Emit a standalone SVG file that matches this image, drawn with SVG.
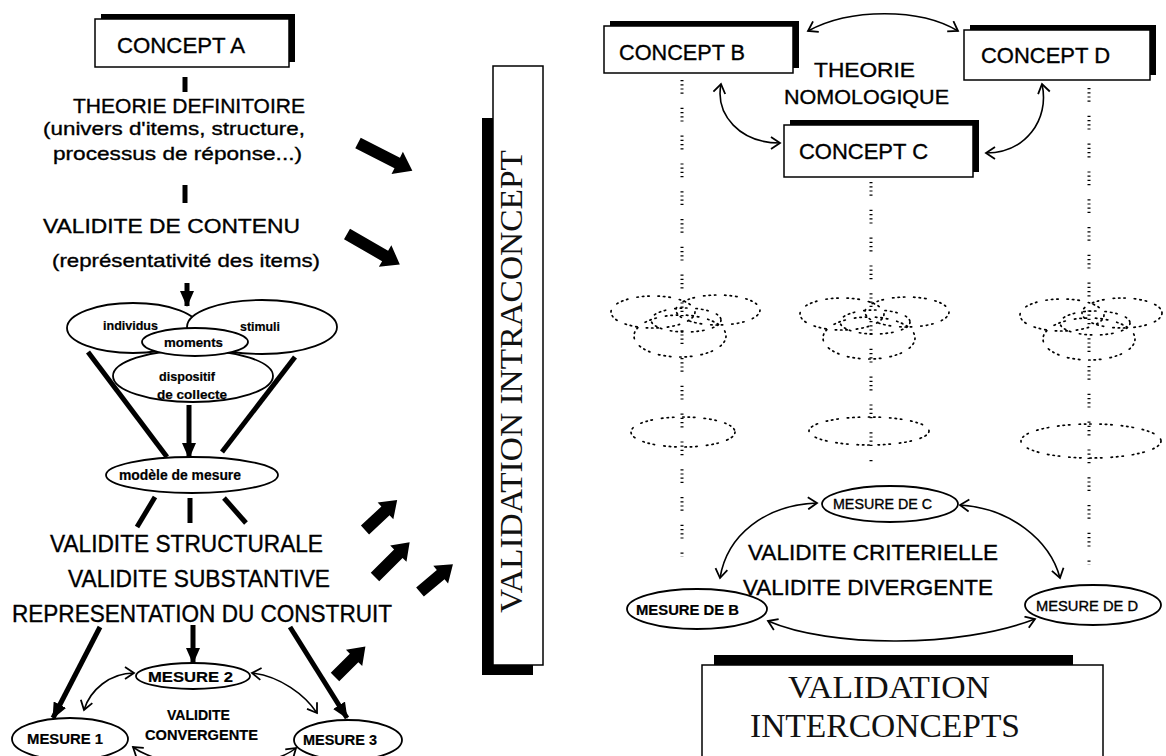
<svg xmlns="http://www.w3.org/2000/svg" width="1166" height="756" viewBox="0 0 1166 756">
<defs>
<style>
.t{font-family:"Liberation Sans",Arial,sans-serif;fill:#000;stroke:#000;stroke-width:0.35}
.b{font-weight:bold;stroke-width:0.2}
.sf{font-family:"Liberation Serif","Times New Roman",serif;fill:#111}
.box{fill:#fff;stroke:#000;stroke-width:1.5}
.shd{fill:#000}
.el{fill:#fff;stroke:#000;stroke-width:1.8}
.dot{fill:none;stroke:#000;stroke-width:1.7;stroke-dasharray:1.4 4 1.4 4 1.4 9;stroke-linecap:round}
.vdot{fill:none;stroke:#000;stroke-width:3;stroke-dasharray:1.2 3 1.2 3 1.2 3 1.2 14}
.thick{fill:none;stroke:#000;stroke-width:5}
.thin{fill:none;stroke:#000;stroke-width:1.6}
.blk{fill:#000}
</style>
<marker id="sol" markerUnits="userSpaceOnUse" markerWidth="16" markerHeight="14" refX="15" refY="7" orient="auto">
<path d="M0,0 L16,7 L0,14 Z" fill="#000"/>
</marker>
<marker id="chev" markerUnits="userSpaceOnUse" markerWidth="12" markerHeight="14" refX="10" refY="7" orient="auto-start-reverse">
<path d="M1,1 L10,7 L1,13" fill="none" stroke="#000" stroke-width="1.8"/>
</marker>
</defs>
<rect width="1166" height="756" fill="#fff"/>

<!-- connectors -->
<g id="connectors">
<line class="thick" x1="185" y1="77" x2="185" y2="92"/>
<line class="thick" x1="185" y1="185" x2="185" y2="203"/>
<line class="thick" x1="187" y1="283" x2="187" y2="306" marker-end="url(#sol)"/>
<line class="thick" x1="88" y1="352" x2="167" y2="457"/>
<line class="thick" x1="295" y1="357" x2="222" y2="452"/>
<line class="thick" x1="189" y1="405" x2="189" y2="458" marker-end="url(#sol)"/>
<line class="thick" x1="155" y1="497" x2="137" y2="527"/>
<line class="thick" x1="190" y1="498" x2="190" y2="523"/>
<line class="thick" x1="224" y1="498" x2="246" y2="523"/>
<line class="thick" x1="100" y1="627" x2="53" y2="718" stroke-width="4" marker-end="url(#sol)"/>
<line class="thick" x1="193" y1="625" x2="193" y2="663" stroke-width="4" marker-end="url(#sol)"/>
<line class="thick" x1="290" y1="627" x2="347" y2="718" stroke-width="4" marker-end="url(#sol)"/>
<path class="thin" d="M134,673 C110,673 90,690 84,710" marker-start="url(#chev)" marker-end="url(#chev)"/>
<path class="thin" d="M252,673 C280,676 305,695 317,713" marker-start="url(#chev)" marker-end="url(#chev)"/>
<path class="thin" d="M133,747 C165,772 268,772 296,748" marker-start="url(#chev)" marker-end="url(#chev)"/>

<!-- block arrows -->
<path class="blk" transform="translate(358,143) rotate(27)" d="M0,-6 H44 V-12.5 L61,0 L44,12.5 V6 H0 Z"/>
<path class="blk" transform="translate(347,234) rotate(30)" d="M0,-6 H44 V-12.5 L61,0 L44,12.5 V6 H0 Z"/>
<path class="blk" transform="translate(365,530) rotate(-43)" d="M0,-6 H28 V-11.5 L44,0 L28,11.5 V6 H0 Z"/>
<path class="blk" transform="translate(375,577) rotate(-45)" d="M0,-6 H33 V-11.5 L49,0 L33,11.5 V6 H0 Z"/>
<path class="blk" transform="translate(420,592) rotate(-40)" d="M0,-6 H27 V-11.5 L43,0 L27,11.5 V6 H0 Z"/>
<path class="blk" transform="translate(335,677) rotate(-45)" d="M0,-6 H27 V-11.5 L43,0 L27,11.5 V6 H0 Z"/>

<!-- right side thin arrows -->
<path class="thin" d="M808,31 C850,8 920,8 958,31" marker-start="url(#chev)" marker-end="url(#chev)"/>
<path class="thin" d="M721,84 C715,115 740,143 780,143" marker-start="url(#chev)" marker-end="url(#chev)"/>
<path class="thin" d="M1042,84 C1050,120 1025,153 986,153" marker-start="url(#chev)" marker-end="url(#chev)"/>
<path class="thin" d="M817,503 C765,505 727,535 720,578" marker-start="url(#chev)" marker-end="url(#chev)"/>
<path class="thin" d="M960,505 C1010,508 1050,540 1060,578" marker-start="url(#chev)" marker-end="url(#chev)"/>
<path class="thin" d="M768,621 C830,648 960,648 1035,619" marker-start="url(#chev)" marker-end="url(#chev)"/>

<!-- dotted verticals -->
<line class="vdot" x1="682" y1="80" x2="682" y2="557"/>
<line class="vdot" x1="871" y1="182" x2="871" y2="462"/>
<line class="vdot" x1="1089" y1="88" x2="1089" y2="565"/>
</g>

<!-- left column -->
<g id="conceptA">
<rect class="shd" x="101" y="14" width="194" height="48"/>
<rect class="box" x="95" y="19" width="194" height="48"/>
<text class="t" x="117" y="53" font-size="22" textLength="128" lengthAdjust="spacingAndGlyphs">CONCEPT A</text>
</g>
<g id="theorie-definitoire">
<text class="t" x="73" y="113" font-size="20" textLength="232" lengthAdjust="spacingAndGlyphs">THEORIE DEFINITOIRE</text>
<text class="t" x="43" y="135" font-size="19" textLength="262" lengthAdjust="spacingAndGlyphs">(univers d'items, structure,</text>
<text class="t" x="53" y="160" font-size="19" textLength="249" lengthAdjust="spacingAndGlyphs">processus de réponse...)</text>
</g>
<g id="validite-contenu">
<text class="t" x="43" y="233" font-size="21" textLength="257" lengthAdjust="spacingAndGlyphs">VALIDITE DE CONTENU</text>
<text class="t" x="52" y="267" font-size="19" textLength="268" lengthAdjust="spacingAndGlyphs">(représentativité des items)</text>
</g>
<g id="facettes">
<ellipse class="el" cx="193" cy="376" rx="80" ry="26"/>
<ellipse class="el" cx="133" cy="328" rx="66" ry="25"/>
<ellipse class="el" cx="262" cy="327" rx="75" ry="27"/>
<ellipse class="el" cx="195" cy="342" rx="53" ry="14"/>
<text class="t b" x="103" y="330" font-size="13" textLength="55" lengthAdjust="spacingAndGlyphs">individus</text>
<text class="t b" x="240" y="331" font-size="13" textLength="40" lengthAdjust="spacingAndGlyphs">stimuli</text>
<text class="t b" x="164" y="347" font-size="13" textLength="59" lengthAdjust="spacingAndGlyphs">moments</text>
<text class="t b" x="159" y="381" font-size="13" textLength="56" lengthAdjust="spacingAndGlyphs">dispositif</text>
<text class="t b" x="157" y="399" font-size="13" textLength="70" lengthAdjust="spacingAndGlyphs">de collecte</text>
</g>
<g id="modele">
<ellipse class="el" cx="192" cy="475" rx="86" ry="18"/>
<text class="t b" x="119" y="480" font-size="14" textLength="122" lengthAdjust="spacingAndGlyphs">modèle de mesure</text>
</g>
<g id="validites-intra">
<text class="t" x="50" y="552" font-size="23" textLength="273" lengthAdjust="spacingAndGlyphs">VALIDITE STRUCTURALE</text>
<text class="t" x="68" y="587" font-size="23" textLength="262" lengthAdjust="spacingAndGlyphs">VALIDITE SUBSTANTIVE</text>
<text class="t" x="12" y="622" font-size="23" textLength="380" lengthAdjust="spacingAndGlyphs">REPRESENTATION DU CONSTRUIT</text>
</g>
<g id="mesure2">
<ellipse class="el" cx="193" cy="676" rx="57" ry="13"/>
<text class="t b" x="148" y="682" font-size="15" textLength="85" lengthAdjust="spacingAndGlyphs">MESURE 2</text>
</g>
<g id="mesure1">
<ellipse class="el" cx="70" cy="739" rx="58" ry="21"/>
<text class="t b" x="27" y="744" font-size="15" textLength="76" lengthAdjust="spacingAndGlyphs">MESURE 1</text>
</g>
<g id="mesure3">
<ellipse class="el" cx="348" cy="740" rx="54" ry="20"/>
<text class="t b" x="303" y="745" font-size="15" textLength="74" lengthAdjust="spacingAndGlyphs">MESURE 3</text>
</g>
<g id="convergente">
<text class="t b" x="167" y="720" font-size="14" textLength="63" lengthAdjust="spacingAndGlyphs">VALIDITE</text>
<text class="t b" x="145" y="740" font-size="14" textLength="113" lengthAdjust="spacingAndGlyphs">CONVERGENTE</text>
</g>

<!-- vertical box -->
<g id="validation-intraconcept">
<rect class="shd" x="482" y="118" width="51" height="557"/>
<rect class="box" x="493" y="66" width="50" height="599"/>
<text class="sf" transform="translate(522,613) rotate(-90)" font-size="32" textLength="463" lengthAdjust="spacingAndGlyphs">VALIDATION INTRACONCEPT</text>
</g>

<!-- right side -->
<g id="conceptB">
<rect class="shd" x="610" y="21" width="189" height="47"/>
<rect class="box" x="604" y="26" width="189" height="47"/>
<text class="t" x="619" y="60" font-size="22" textLength="126" lengthAdjust="spacingAndGlyphs">CONCEPT B</text>
</g>
<g id="conceptD">
<rect class="shd" x="970" y="25" width="186" height="50"/>
<rect class="box" x="964" y="30" width="186" height="50"/>
<text class="t" x="981" y="63" font-size="22" textLength="129" lengthAdjust="spacingAndGlyphs">CONCEPT D</text>
</g>
<g id="conceptC">
<rect class="shd" x="790" y="120" width="189" height="52"/>
<rect class="box" x="784" y="125" width="189" height="52"/>
<text class="t" x="799" y="159" font-size="22" textLength="129" lengthAdjust="spacingAndGlyphs">CONCEPT C</text>
</g>
<g id="theorie-nomologique">
<text class="t" x="814" y="77" font-size="20" textLength="101" lengthAdjust="spacingAndGlyphs">THEORIE</text>
<text class="t" x="784" y="104" font-size="20" textLength="165" lengthAdjust="spacingAndGlyphs">NOMOLOGIQUE</text>
</g>

<g id="facettes-B">
<ellipse class="dot" cx="680" cy="336" rx="46" ry="21"/>
<ellipse class="dot" cx="653" cy="312" rx="42" ry="16"/>
<ellipse class="dot" cx="718" cy="310" rx="42" ry="15"/>
<ellipse class="dot" cx="686" cy="320" rx="35" ry="12"/>
<ellipse class="dot" cx="683" cy="432" rx="52" ry="15"/>
</g>
<g id="facettes-C">
<ellipse class="dot" cx="869" cy="338" rx="46" ry="21"/>
<ellipse class="dot" cx="842" cy="314" rx="42" ry="16"/>
<ellipse class="dot" cx="907" cy="312" rx="42" ry="15"/>
<ellipse class="dot" cx="875" cy="322" rx="35" ry="12"/>
<ellipse class="dot" cx="869" cy="431" rx="60" ry="14"/>
</g>
<g id="facettes-D">
<ellipse class="dot" cx="1089" cy="339" rx="46" ry="21"/>
<ellipse class="dot" cx="1062" cy="315" rx="42" ry="16"/>
<ellipse class="dot" cx="1122" cy="313" rx="40" ry="15"/>
<ellipse class="dot" cx="1095" cy="323" rx="35" ry="12"/>
<ellipse class="dot" cx="1091" cy="441" rx="70" ry="17"/>
</g>

<g id="mesureC">
<ellipse class="el" cx="890" cy="504" rx="68" ry="18"/>
<text class="t" x="833" y="509" font-size="14" textLength="99" lengthAdjust="spacingAndGlyphs">MESURE DE C</text>
</g>
<g id="mesureB">
<ellipse class="el" cx="697" cy="609" rx="70" ry="20"/>
<text class="t b" x="636" y="615" font-size="14" textLength="103" lengthAdjust="spacingAndGlyphs">MESURE DE B</text>
</g>
<g id="mesureD">
<ellipse class="el" cx="1093" cy="605" rx="68" ry="20"/>
<text class="t" x="1036" y="611" font-size="14" textLength="102" lengthAdjust="spacingAndGlyphs">MESURE DE D</text>
</g>
<g id="validites-inter">
<text class="t" x="748" y="560" font-size="22" textLength="250" lengthAdjust="spacingAndGlyphs">VALIDITE CRITERIELLE</text>
<text class="t" x="743" y="595" font-size="22" textLength="250" lengthAdjust="spacingAndGlyphs">VALIDITE DIVERGENTE</text>
</g>

<g id="validation-interconcepts">
<rect class="shd" x="714" y="655" width="359" height="12"/>
<rect class="box" x="702" y="665" width="401" height="100"/>
<text class="sf" x="788" y="698" font-size="32" textLength="202" lengthAdjust="spacingAndGlyphs">VALIDATION</text>
<text class="sf" x="750" y="737" font-size="33" textLength="270" lengthAdjust="spacingAndGlyphs">INTERCONCEPTS</text>
</g>
</svg>
